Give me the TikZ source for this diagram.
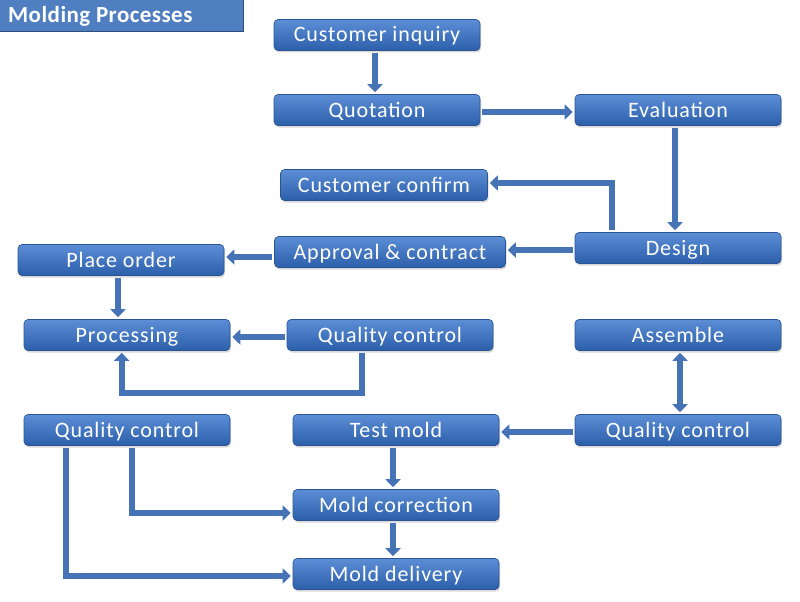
\documentclass[tikz,border=0pt]{standalone}
\usepackage{fontspec}
\setmainfont{Carlito}
\usetikzlibrary{arrows.meta,calc,shadows}
\definecolor{boxtop}{HTML}{5C8ED6}
\definecolor{boxbot}{HTML}{2C5FAA}
\definecolor{boxedge}{HTML}{2B5494}
\definecolor{arrowc}{HTML}{4673B6}
\definecolor{titlefill}{HTML}{4F7FC0}
\definecolor{titleedge}{HTML}{2E4E80}
\begin{document}
\begin{tikzpicture}[x=1pt,y=-1pt,
  box/.style={draw=boxedge, line width=0.6pt, rounded corners=4pt,
    top color=boxtop, bottom color=boxbot, minimum width=206pt,
    minimum height=31pt, text=white, inner sep=0pt,
    text height=16pt, text depth=2pt,
    font=\fontsize{22}{24}\selectfont\addfontfeatures{LetterSpace=4},
    drop shadow={opacity=0.3, shadow xshift=1pt, shadow yshift=-2pt}},
  blk/.style={draw=arrowc, line width=6pt,
    -{Triangle[width=15pt,length=8pt]}, shorten >=2pt, shorten <=2pt},
  dblk/.style={draw=arrowc, line width=6pt,
    {Triangle[width=15pt,length=8pt]}-{Triangle[width=15pt,length=8pt]},
    shorten >=2pt, shorten <=2pt}]
\useasboundingbox (0,0) rectangle (800,602);
\fill[white] (0,0) rectangle (800,602);

% title
\node[draw=titleedge, line width=0.8pt, fill=titlefill, minimum width=244pt,
  minimum height=32pt, anchor=north west, inner sep=0pt] (title) at (-1,-1) {};
\node[anchor=west, text=white, inner sep=0pt,
  font=\fontsize{23}{25}\bfseries\selectfont\addfontfeatures{LetterSpace=2}] (titletext)
  at (8,16) {Molding Processes};

% boxes
\node[box] (inq)   at (377,35)  {Customer inquiry};
\node[box] (quo)   at (377,110) {Quotation};
\node[box] (eval)  at (678,110) {Evaluation};
\node[box, minimum width=207pt] (conf) at (384,185) {Customer confirm};
\node[box] (design) at (678,248) {Design};
\node[box, minimum width=231pt] (appr) at (390,252) {Approval \& contract};
\node[box] (place) at (121,260) {Place order};
\node[box] (proc)  at (127,335) {Processing};
\node[box] (qcm)   at (390,335) {Quality control};
\node[box] (asm)   at (678,335) {Assemble};
\node[box] (qcl)   at (127,430) {Quality control};
\node[box] (test)  at (396,430) {Test mold};
\node[box] (qcr)   at (678,430) {Quality control};
\node[box] (corr)  at (396,505) {Mold correction};
\node[box] (deliv) at (396,574) {Mold delivery};

% connectors
\coordinate (c1) at ($(inq.south)+(-2,0)$);
\draw[blk] (c1) -- (c1 |- quo.north);
\coordinate (c2) at ($(quo.east)+(0,2)$);
\draw[blk] (c2) -- (c2 -| eval.west);
\coordinate (c3) at ($(eval.south)+(-3,0)$);
\draw[blk] (c3) -- (c3 |- design.north);
\coordinate (c4) at ($(design.north west)+(37,0)$);
\draw[blk, rounded corners=0pt] (c4) |- ($(conf.east)+(0,-2)$);
\draw[blk] ($(design.west)+(0,2)$) -- ($(appr.east)+(0,-2)$);
\draw[blk] ($(appr.west)+(0,5)$) -- ($(place.east)+(0,-3)$);
\coordinate (c5) at ($(place.south)+(-3,0)$);
\draw[blk] (c5) -- (c5 |- proc.north);
\draw[blk] ($(qcm.west)+(0,2)$) -- ($(proc.east)+(0,2)$);
\coordinate (c6) at ($(qcm.south west)+(75,0)$);
\coordinate (c7) at ($(proc.south west)+(98,0)$);
\draw[blk] (c6) -- ++(0,42) -| (c7);
\coordinate (c8) at ($(asm.south)+(2,0)$);
\draw[dblk] (c8) -- (c8 |- qcr.north);
\draw[blk] ($(qcr.west)+(0,2)$) -- ($(test.east)+(0,2)$);
\coordinate (c9) at ($(test.south)+(-3,0)$);
\draw[blk] (c9) -- (c9 |- corr.north);
\coordinate (c10) at ($(corr.south)+(-3,0)$);
\draw[blk] (c10) -- (c10 |- deliv.north);
\coordinate (c11) at ($(qcl.south west)+(108,0)$);
\draw[blk] (c11) |- ($(corr.west)+(0,8)$);
\coordinate (c12) at ($(qcl.south west)+(42,0)$);
\draw[blk] (c12) |- ($(deliv.west)+(0,2)$);
\end{tikzpicture}
\end{document}
